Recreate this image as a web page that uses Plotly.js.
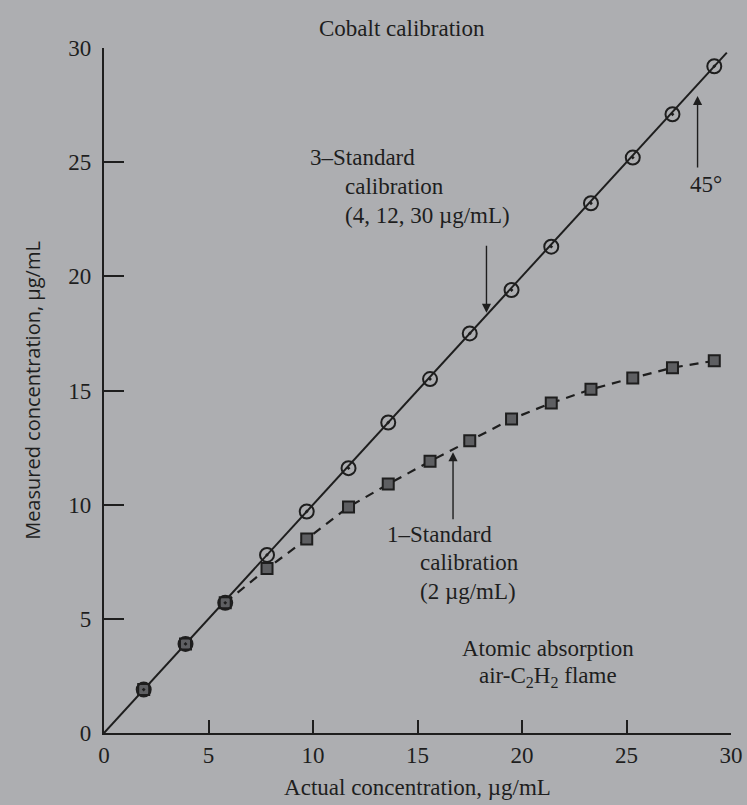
<!DOCTYPE html>
<html>
<head>
<meta charset="utf-8">
<script src="https://cdn.plot.ly/plotly-3.0.1.min.js"></script>
<style>
html,body{margin:0;padding:0;background:#adaeb1;}
#chart{width:747px;height:805px;}
</style>
</head>
<body>
<div id="chart"></div>
<script>
// Data
const actualConc = [1.9, 3.9, 5.8, 7.8, 9.7, 11.7, 13.6, 15.6, 17.5, 19.5, 21.4, 23.3, 25.3, 27.2, 29.2];
const measured3Std = [1.9, 3.9, 5.7, 7.8, 9.7, 11.6, 13.6, 15.5, 17.5, 19.4, 21.3, 23.2, 25.2, 27.1, 29.2];
const measured1Std = [1.9, 3.9, 5.7, 7.2, 8.5, 9.9, 10.9, 11.9, 12.8, 13.75, 14.45, 15.05, 15.55, 16.0, 16.3];
const lineX = [0, 29.8];
const lineY = [0, 29.8];
const tickVals = [0, 5, 10, 15, 20, 25, 30];
const tickText = ["0", "5", "10", "15", "20", "25", "30"];

const ink = '#1e1e1e';
const serif = 'Liberation Serif, Times New Roman, serif';
const sans = 'Open Sans, Noto Sans, sans-serif';
const FS = 23;

const traces = [
  { x: lineX, y: lineY, mode: 'lines', line: {color: ink, width: 2}, hoverinfo: 'skip', showlegend: false },
  { x: actualConc.slice(2), y: measured1Std.slice(2), mode: 'lines',
    line: {color: ink, width: 2.2, dash: '9px,7px'}, showlegend: false },
  { x: actualConc, y: measured1Std, mode: 'markers',
    marker: {symbol: 'square', size: 11, color: '#5e5f62', line: {color: ink, width: 2}}, showlegend: false },
  { x: actualConc, y: measured3Std, mode: 'markers',
    marker: {symbol: 'circle-open-dot', size: 14, color: ink, line: {width: 2}}, showlegend: false }
];

function txt(x, y, text, anchor) {
  return {xref: 'paper', yref: 'paper', x: x, y: y, text: text, showarrow: false,
          xanchor: anchor || 'left', yanchor: 'middle', font: {family: serif, size: FS, color: ink}};
}
// paper coords: plot area 104..731 px, 48..733 px
function px(xp) { return (xp - 104) / 627; }
function py(yp) { return (733 - yp) / 685; }

const annotations = [
  {xref: 'paper', yref: 'paper', x: px(402), y: py(28), text: 'Cobalt calibration', showarrow: false,
   xanchor: 'center', yanchor: 'middle', font: {family: serif, size: FS, color: ink}},
  txt(px(308), py(157), '3–Standard'),
  txt(px(343), py(186), 'calibration'),
  txt(px(343), py(215), '(4, 12, 30 µg/mL)'),
  txt(px(385), py(534), '1–Standard'),
  txt(px(418), py(562), 'calibration'),
  txt(px(418), py(591), '(2 µg/mL)'),
  txt(px(548), py(648), 'Atomic absorption', 'center'),
  txt(px(548), py(677), 'air-C<sub>2</sub>H<sub>2</sub> flame', 'center'),
  txt(px(706), py(185), '45°', 'center'),
  // arrows
  {x: 18.3, y: 18.4, ax: 18.3, ay: 21.4, xref: 'x', yref: 'y', axref: 'x', ayref: 'y', text: '',
   showarrow: true, arrowhead: 2, arrowsize: 1.3, arrowwidth: 1.4, arrowcolor: ink},
  {x: 28.4, y: 27.9, ax: 28.4, ay: 24.7, xref: 'x', yref: 'y', axref: 'x', ayref: 'y', text: '',
   showarrow: true, arrowhead: 2, arrowsize: 1.3, arrowwidth: 1.4, arrowcolor: ink},
  {x: 16.7, y: 12.3, ax: 16.7, ay: 9.3, xref: 'x', yref: 'y', axref: 'x', ayref: 'y', text: '',
   showarrow: true, arrowhead: 2, arrowsize: 1.3, arrowwidth: 1.4, arrowcolor: ink}
];

const layout = {
  width: 747, height: 805,
  paper_bgcolor: '#adaeb1', plot_bgcolor: 'rgba(0,0,0,0)',
  margin: {l: 104, r: 16, t: 48, b: 72},
  font: {family: serif, size: FS, color: ink},
  showlegend: false,
  xaxis: {
    range: [0, 30], tickvals: tickVals, ticktext: tickText,
    ticks: 'inside', ticklen: 13, tickwidth: 2, tickcolor: ink,
    showline: true, linecolor: ink, linewidth: 2.2, showgrid: false, zeroline: false,
    tickfont: {family: serif, size: FS, color: ink}, ticklabelstandoff: 0,
    title: {text: 'Actual concentration, µg/mL', font: {family: serif, size: FS, color: ink}, standoff: 12}
  },
  yaxis: {
    range: [0, 30], tickvals: tickVals, ticktext: tickText,
    ticks: 'inside', ticklen: 20, tickwidth: 2, tickcolor: ink,
    showline: true, linecolor: ink, linewidth: 2.2, showgrid: false, zeroline: false,
    tickfont: {family: serif, size: FS, color: ink}, ticklabelstandoff: 6,
    title: {text: 'Measured concentration, µg/mL', font: {family: sans, size: 20, color: ink}, standoff: 22}
  },
  annotations: annotations
};

Plotly.newPlot('chart', traces, layout, {displayModeBar: false, staticPlot: true});
</script>
</body>
</html>
